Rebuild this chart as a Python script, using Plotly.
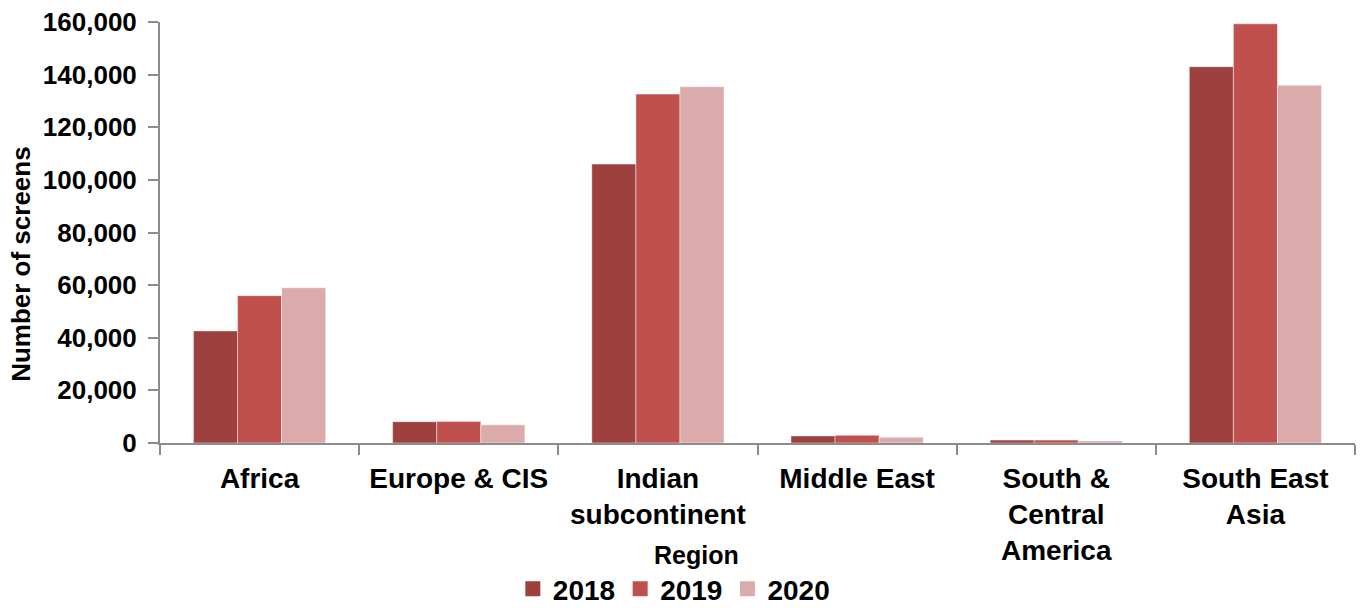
import plotly.graph_objects as go

regions = ["Africa", "Europe & CIS", "Indian<br>subcontinent", "Middle East",
           "South &<br>Central<br>America", "South East<br>Asia"]
years = ["2018", "2019", "2020"]
screens_2018 = [42600, 8100, 106000, 2700, 1100, 143000]
screens_2019 = [56000, 8200, 132600, 2900, 1100, 159300]
screens_2020 = [59000, 6900, 135400, 2200, 800, 136000]
colors = ["#9D403E", "#C0504D", "#DAABAA"]

FONT = "Liberation Sans, Arial, sans-serif"

fig = go.Figure()
for year, vals, col in zip(years, [screens_2018, screens_2019, screens_2020], colors):
    fig.add_trace(go.Bar(
        x=regions, y=vals, name=year, showlegend=False,
        marker=dict(color=col, line=dict(color="rgba(255,255,255,0.45)", width=1)),
    ))
# Square legend swatches
for year, col in zip(years, colors):
    fig.add_trace(go.Scatter(
        x=[None], y=[None], mode="markers", name=year,
        marker=dict(symbol="square", size=15, color=col),
    ))

fig.update_layout(
    width=1363, height=614,
    margin=dict(l=160, r=8, t=22, b=171),
    paper_bgcolor="white", plot_bgcolor="white",
    barmode="group", bargap=0.336, bargroupgap=0,
    font=dict(family=FONT, color="black"),
    showlegend=True,
    legend=dict(
        orientation="h", x=0.43, xanchor="center",
        yref="container", y=-0.011, yanchor="bottom",
        font=dict(size=28, family=FONT, color="black", weight="bold"),
        itemwidth=30, traceorder="normal",
    ),
)

fig.update_xaxes(
    type="category", tickson="boundaries", automargin=False,
    showline=True, linecolor="#8C8C8C", linewidth=2,
    ticks="outside", ticklen=10, tickcolor="#8C8C8C", tickwidth=2,
    showgrid=False, zeroline=False,
    tickfont=dict(size=28, family=FONT, color="black", weight="bold"),
    ticklabelstandoff=9,
)
fig.update_yaxes(
    range=[0, 160000], dtick=20000, tickformat=",", automargin=False,
    showline=True, linecolor="#8C8C8C", linewidth=2,
    ticks="outside", ticklen=10, tickcolor="#8C8C8C", tickwidth=2,
    showgrid=False, zeroline=False,
    tickfont=dict(size=26, family=FONT, color="black", weight="bold"),
    ticklabelstandoff=6,
)

# Axis titles placed as annotations
fig.add_annotation(
    text="Number of screens", textangle=-90,
    xref="paper", yref="paper", x=-0.1165, y=0.425,
    xanchor="center", yanchor="middle", showarrow=False,
    font=dict(size=26, family=FONT, color="black", weight="bold"),
)
fig.add_annotation(
    text="Region",
    xref="paper", yref="paper", x=0.449, y=-0.266,
    xanchor="center", yanchor="middle", showarrow=False,
    font=dict(size=25, family=FONT, color="black", weight="bold"),
)

fig.write_html("out.html")
